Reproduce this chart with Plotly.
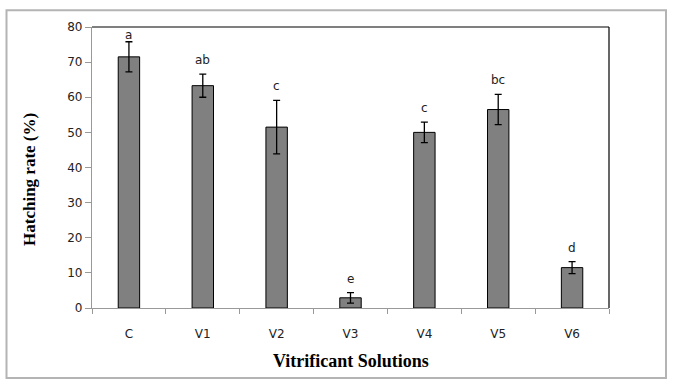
import plotly.graph_objects as go

categories = ["C", "V1", "V2", "V3", "V4", "V5", "V6"]
hatching_rate = [71.5, 63.3, 51.5, 2.9, 50.0, 56.5, 11.5]
errors = [4.3, 3.3, 7.6, 1.5, 2.9, 4.3, 1.7]
letters = ["a", "ab", "c", "e", "c", "bc", "d"]
y_ticks = [0, 10, 20, 30, 40, 50, 60, 70, 80]

W, H = 674, 388
L, R, T, B = 92, 65, 27, 80
pw = W - L - R
y0px, y1px = 308.3, 26.7


def fy(py):
    return (y0px - py) / (y0px - y1px)


def fx(px):
    return (px - L) / pw


fig = go.Figure()
fig.add_trace(go.Bar(
    x=categories, y=hatching_rate,
    marker=dict(color="#808080", line=dict(color="#000000", width=1)),
    width=0.29,
    error_y=dict(type="data", array=errors, visible=True,
                 color="#000000", thickness=1.3, width=3.5),
    showlegend=False,
))

annotations = []
for c, v, e, lab in zip(categories, hatching_rate, errors, letters):
    annotations.append(dict(
        x=c, y=min(v + e + 4.0, 77.6), text=lab, showarrow=False,
        xref="x", yref="y", font=dict(family="DejaVu Sans", size=12, color="#222222"),
        xanchor="center", yanchor="middle"))

annotations.append(dict(
    x=fx(351), y=fy(361), xref="paper", yref="paper",
    text="<b>Vitrificant Solutions</b>", showarrow=False,
    font=dict(family="Liberation Serif", size=18, color="#000000"),
    xanchor="center", yanchor="middle"))
annotations.append(dict(
    x=fx(30), y=fy(180), xref="paper", yref="paper",
    text="<b>Hatching rate (%)</b>", showarrow=False, textangle=-90,
    font=dict(family="Liberation Serif", size=17, color="#000000"),
    xanchor="center", yanchor="middle"))

shapes = [
    dict(type="rect", xref="paper", yref="paper",
         x0=fx(6.5), x1=fx(666), y0=fy(378.5), y1=fy(10),
         line=dict(color="#b4b4b4", width=2), fillcolor="rgba(0,0,0,0)", layer="below"),
    dict(type="line", xref="paper", yref="paper", x0=0, x1=1, y0=1, y1=1,
         line=dict(color="#000000", width=1.2)),
    dict(type="line", xref="paper", yref="paper", x0=1, x1=1, y0=0, y1=1,
         line=dict(color="#000000", width=1.2)),
]

fig.update_layout(
    width=W, height=H,
    margin=dict(l=L, r=R, t=T, b=B, pad=0),
    paper_bgcolor="white", plot_bgcolor="white",
    annotations=annotations,
    shapes=shapes,
    xaxis=dict(
        type="category", tickson="boundaries", ticks="outside", ticklen=5,
        tickcolor="#999999", showline=True, linecolor="#999999", linewidth=1.2,
        showgrid=False, ticklabelstandoff=14,
        tickfont=dict(family="DejaVu Sans", size=12, color="#222222"),
    ),
    yaxis=dict(
        range=[0, 80], tickvals=y_ticks, ticks="outside", ticklen=6,
        tickcolor="#999999", showline=True, linecolor="#999999", linewidth=1.2,
        showgrid=False, zeroline=False,
        tickfont=dict(family="DejaVu Sans", size=12, color="#222222"),
    ),
)

fig.write_html("out.html", config={"displayModeBar": False},
               post_script="document.body.style.margin='0px';")
